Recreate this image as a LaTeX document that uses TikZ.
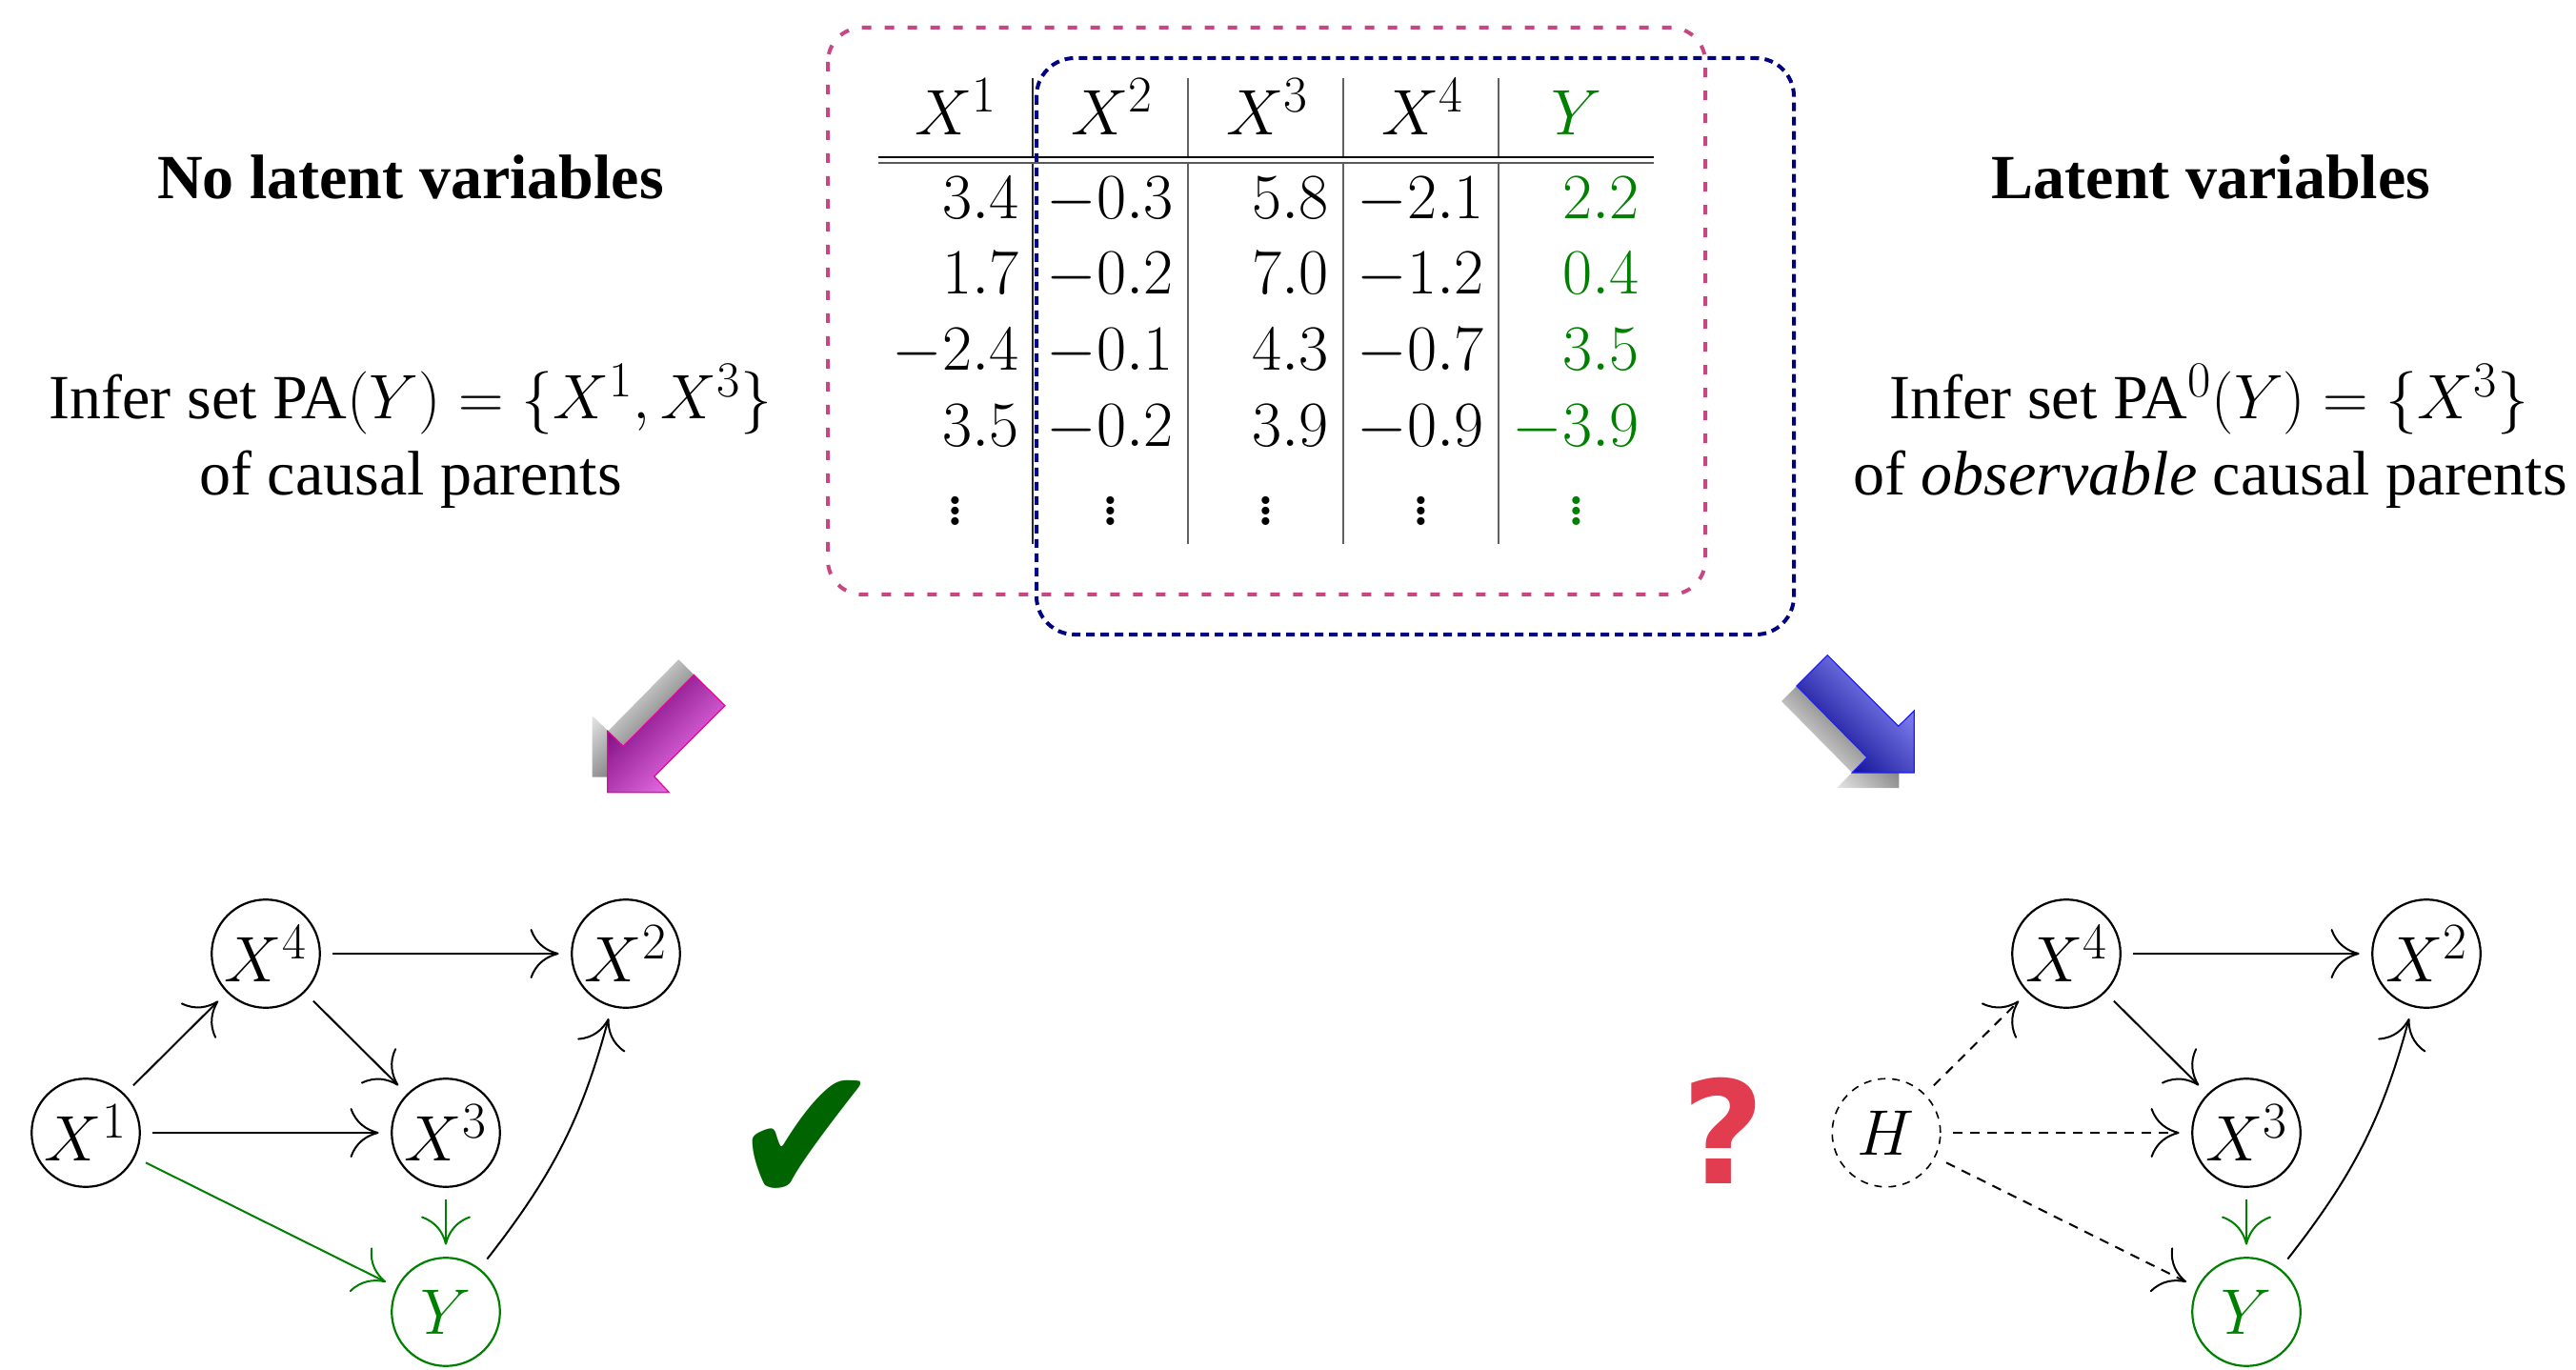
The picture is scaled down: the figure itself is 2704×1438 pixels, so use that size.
\RequirePackage{fix-cm}
\documentclass[tikz,border=0pt]{standalone}
\usepackage[no-math]{fontspec}
\setmainfont{Liberation Serif}
\newfontfamily\dejavu{DejaVu Sans}
\DeclareMathSizes{33.8}{33.8}{27}{22}
\DeclareMathSizes{33}{33}{26.4}{21.5}
\DeclareMathSizes{42}{42}{30}{22}
\usetikzlibrary{arrows.meta}
\definecolor{gr}{rgb}{0,0.5,0}
\definecolor{pinkbox}{RGB}{200,70,130}
\definecolor{bluebox}{RGB}{0,0,128}
\newcommand{\tallvdots}{\vbox{\baselineskip5.6pt\lineskiplimit0pt\hbox{$.$}\hbox{$.$}\hbox{$.$}}}
\tikzset{
  base font/.style={font=\fontsize{33.8}{40}\selectfont},
  text font/.style={font=\fontsize{33}{40}\selectfont},
  gnode/.style={circle,draw,line width=1.1pt,minimum size=56.8pt,inner sep=0pt,outer sep=6.8pt,base font},
  dashnode/.style={gnode,dash pattern=on 4pt off 3.5pt,line width=.8pt},
  greennode/.style={gnode,draw=gr,text=gr},
  edge/.style={line width=1pt,-{Computer Modern Rightarrow[length=15pt,width=26pt]}},
  dashedge/.style={edge,dash pattern=on 5pt off 4pt},
  greenedge/.style={edge,draw=gr},
  cell/.style={anchor=base east,inner sep=0pt,base font},
  head/.style={anchor=base,inner sep=0pt,base font},
  dots/.style={anchor=south,inner sep=0pt,font=\fontsize{42}{48}\selectfont},
  label/.style={anchor=base,inner sep=0pt,text font,align=center},
  vrule/.style={line width=.6pt,draw=black!62},
  hrule/.style={line width=.7pt,draw=black},
}
\newcommand{\magpath}{(728.3,708.3) -- (761,740.7) -- (686.7,815) -- (702.3,831.7) -- (637.7,831.7) -- (637.7,767.3) -- (654.3,783.3) -- cycle}
\newcommand{\blupath}{(1886,720) -- (1918.3,687.7) -- (1992.7,762.3) -- (2009.3,746) -- (2009.3,811) -- (1944.3,811) -- (1960,795) -- cycle}
\begin{document}
\begin{tikzpicture}[x=0.5pt,y=-0.5pt]
\useasboundingbox (0,0) rectangle (2704,1438);
% titles
\node[label,font=\fontsize{33}{40}\selectfont\bfseries] (t1) at (431,209) {No latent variables};
\node[label,font=\fontsize{33}{40}\selectfont\bfseries] (t2) at (2321,209) {Latent variables};
\node[label] (l1) at (431,440) {Infer set PA$(Y)=\{X^1,X^3\}$};
\node[label] (l2) at (431,520) {of causal parents};
\node[label] (r1) at (2319,440) {Infer set PA$^0(Y)=\{X^3\}$};
\node[label] (r2) at (2320,520) {of \textit{observable} causal parents};
% table rules
\foreach \x in {1084,1247,1410,1573}{
  \draw[vrule] (\x,82) -- (\x,165);
  \draw[vrule] (\x,171) -- (\x,571);
}
\draw[line width=.6pt,draw=black!85] (1084,82) -- (1084,165);
\draw[line width=.6pt,draw=black!85] (1084,171) -- (1084,571);
\draw[hrule] (922,165) -- (1736,165);
\draw[hrule,draw=black!65] (922,171) -- (1736,171);
% table header
\node[head] (h1) at (1003,142) {$X^1$};
\node[head] (h2) at (1167,142) {$X^2$};
\node[head] (h3) at (1330,142) {$X^3$};
\node[head] (h4) at (1493,142) {$X^4$};
\node[head,text=gr] (h5) at (1655,142) {$Y$};
% rows
\node[cell] (a1) at (1070,230) {$3.4$};
\node[cell] (a2) at (1232,230) {$-0.3$};
\node[cell] (a3) at (1395,230) {$5.8$};
\node[cell] (a4) at (1558,230) {$-2.1$};
\node[cell,text=gr] (a5) at (1721,230) {$2.2$};
\node[cell] (b1) at (1070,309) {$1.7$};
\node[cell] (b2) at (1232,309) {$-0.2$};
\node[cell] (b3) at (1395,309) {$7.0$};
\node[cell] (b4) at (1558,309) {$-1.2$};
\node[cell,text=gr] (b5) at (1721,309) {$0.4$};
\node[cell] (c1) at (1070,389) {$-2.4$};
\node[cell] (c2) at (1232,389) {$-0.1$};
\node[cell] (c3) at (1395,389) {$4.3$};
\node[cell] (c4) at (1558,389) {$-0.7$};
\node[cell,text=gr] (c5) at (1721,389) {$3.5$};
\node[cell] (d1) at (1070,469) {$3.5$};
\node[cell] (d2) at (1232,469) {$-0.2$};
\node[cell] (d3) at (1395,469) {$3.9$};
\node[cell] (d4) at (1558,469) {$-0.9$};
\node[cell,text=gr] (d5) at (1721,469) {$-3.9$};
\node[dots] (e1) at (1003,552) {\tallvdots};
\node[dots] (e2) at (1166,552) {\tallvdots};
\node[dots] (e3) at (1329,552) {\tallvdots};
\node[dots] (e4) at (1492,552) {\tallvdots};
\node[dots,text=gr] (e5) at (1655,552) {\tallvdots};
% dashed boxes
\draw[pinkbox,line width=2pt,dash pattern=on 5pt off 7pt,rounded corners=18pt] (869,29) rectangle (1790,624);
\draw[bluebox,line width=2pt,dash pattern=on 4.5pt off 3pt,rounded corners=20pt] (1088,61) rectangle (1883,666);
% big arrows
\shade[xshift=-8pt,yshift=8pt,bottom color=white,top color=black!80,shading angle=-135] \magpath;
\draw[draw={rgb,255:red,240;green,0;blue,160},line width=.6pt,bottom color={rgb,255:red,110;green,0;blue,115},top color={rgb,255:red,250;green,125;blue,245},shading angle=-135] \magpath;
\shade[xshift=-8pt,yshift=-8pt,bottom color=white,top color=black!80,shading angle=-45] \blupath;
\draw[draw={rgb,255:red,30;green,30;blue,255},line width=.6pt,bottom color={rgb,255:red,0;green,0;blue,135},top color={rgb,255:red,150;green,150;blue,255},shading angle=-45] \blupath;
% left graph
\node[gnode] (X4) at (279,1001) {$X^4$};
\node[gnode] (X2) at (657,1001) {$X^2$};
\node[gnode] (X1) at (90,1189) {$X^1$};
\node[gnode] (X3) at (468,1189) {$X^3$};
\node[greennode] (Y) at (468,1377) {$Y$};
\draw[edge] (X4) -- (X2);
\draw[edge] (X1) -- (X4);
\draw[edge] (X4) -- (X3);
\draw[edge] (X1) -- (X3);
\draw[greenedge] (X3) -- (Y);
\draw[greenedge] (X1) -- (Y);
\draw[edge] (Y) to[out=52,in=255] (X2);
% right graph
\node[gnode] (RX4) at (2169,1001) {$X^4$};
\node[gnode] (RX2) at (2547,1001) {$X^2$};
\node[dashnode] (H) at (1980,1189) {$H$};
\node[gnode] (RX3) at (2358,1189) {$X^3$};
\node[greennode] (RY) at (2358,1377) {$Y$};
\draw[edge] (RX4) -- (RX2);
\draw[dashedge] (H) -- (RX4);
\draw[edge] (RX4) -- (RX3);
\draw[dashedge] (H) -- (RX3);
\draw[greenedge] (RX3) -- (RY);
\draw[dashedge] (H) -- (RY);
\draw[edge] (RY) to[out=52,in=255] (RX2);
% marks
\node[inner sep=0pt,text={rgb,255:red,0;green,100;blue,0},font=\dejavu\fontsize{104}{110}\selectfont] (check) at (847,1200) {\scalebox{0.9}[1]{✔}};
\node[inner sep=0pt,text={rgb,255:red,225;green,60;blue,80},font=\dejavu\bfseries\fontsize{75}{80}\selectfont] (qm) at (1809,1187) {?};
\end{tikzpicture}
\end{document}
